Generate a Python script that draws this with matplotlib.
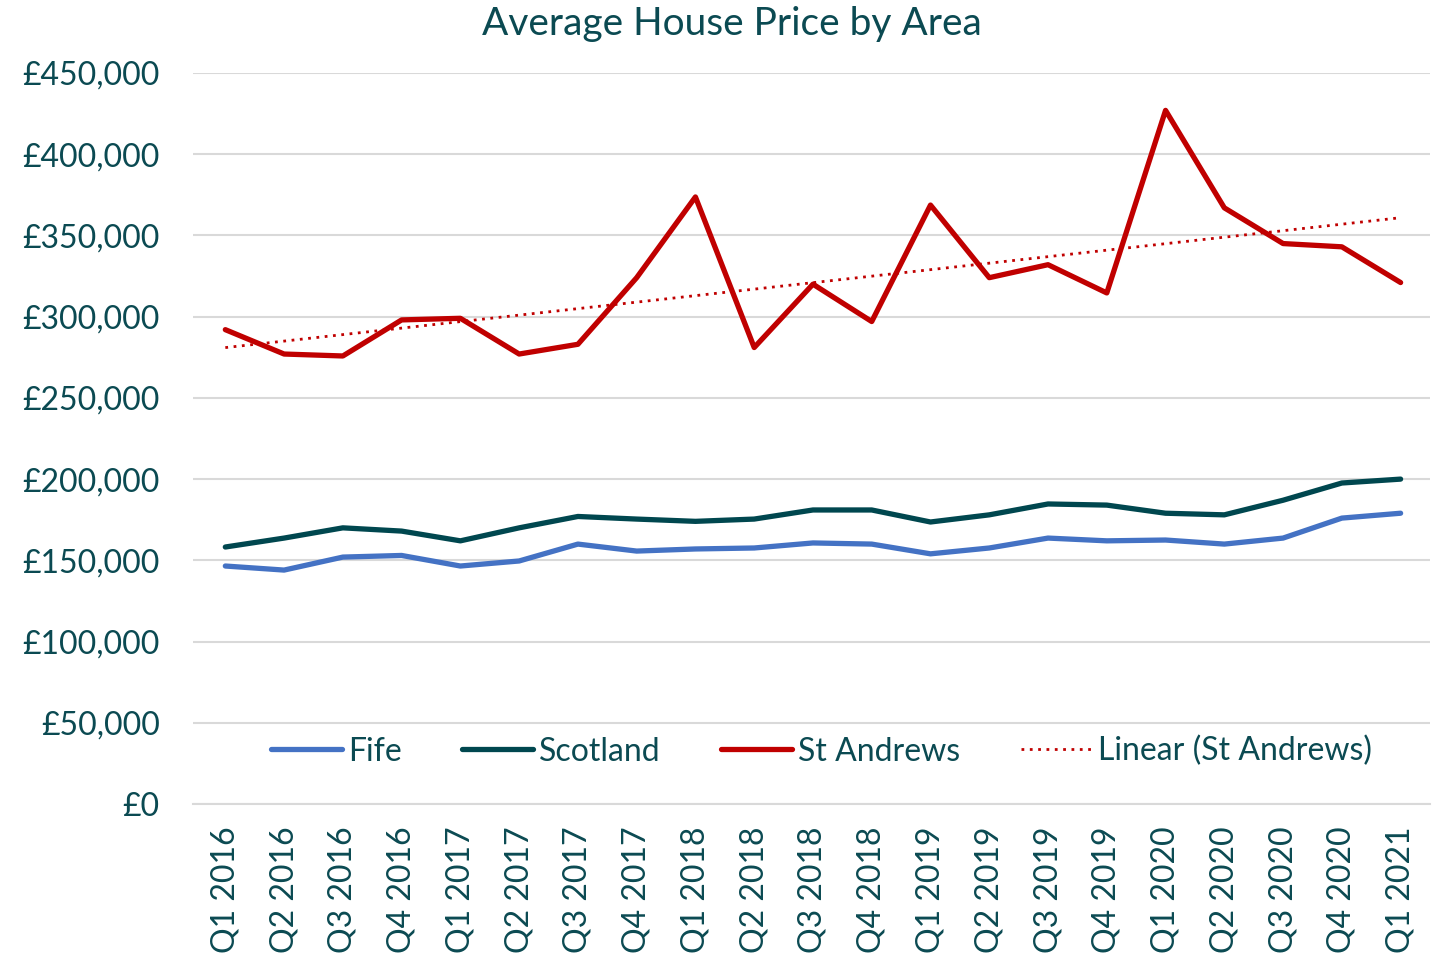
import matplotlib
matplotlib.use("Agg")
import matplotlib.pyplot as plt
import numpy as np
from matplotlib.ticker import FuncFormatter

quarters = ["Q1 2016", "Q2 2016", "Q3 2016", "Q4 2016", "Q1 2017", "Q2 2017", "Q3 2017",
            "Q4 2017", "Q1 2018", "Q2 2018", "Q3 2018", "Q4 2018", "Q1 2019", "Q2 2019",
            "Q3 2019", "Q4 2019", "Q1 2020", "Q2 2020", "Q3 2020", "Q4 2020", "Q1 2021"]
fife = [146500, 144000, 152000, 153000, 146500, 149600, 160000, 155700, 157000, 157600,
        160700, 160000, 154000, 157600, 163700, 162000, 162500, 160000, 163700, 176000, 179000]
scotland = [158200, 163700, 170000, 168000, 162000, 170000, 177000, 175400, 174000, 175400,
            181000, 181000, 173600, 178000, 184700, 184000, 179000, 178000, 187000, 197600, 200000]
st_andrews = [292000, 277000, 275800, 298000, 299000, 277000, 283000, 324000, 373700, 281000,
              320000, 297000, 368700, 324000, 332000, 314600, 427000, 367000, 345000, 343000, 321000]
yticks = [0, 50000, 100000, 150000, 200000, 250000, 300000, 350000, 400000, 450000]

plt.rcParams['font.family'] = ['Lato', 'DejaVu Sans']
txt = "#0B4A52"

fig = plt.figure(figsize=(14.43, 9.59), dpi=100)
ax = fig.add_axes([193/1443, 1 - 804/959, (1430-193)/1443, (804-73)/959])

x = np.arange(len(quarters))
ax.plot(x, fife, color="#4472C4", lw=3.8, label="Fife", solid_capstyle="round")
ax.plot(x, scotland, color="#00474F", lw=3.8, label="Scotland", solid_capstyle="round")
ax.plot(x, st_andrews, color="#C00000", lw=3.8, label="St Andrews", solid_capstyle="round")
coef = np.polyfit(x, st_andrews, 1)
ax.plot(x, np.polyval(coef, x), color="#C00000", lw=2.0, ls=(0, (1, 2.0)),
        label="Linear (St Andrews)")

ax.set_xlim(-0.55, 20.5)
ax.set_ylim(0, 450000)
ax.set_yticks(yticks)
ax.yaxis.set_major_formatter(FuncFormatter(lambda v, p: f"£{int(v):,}"))
ax.set_xticks(x)
ax.set_xticklabels(quarters, rotation=90)
ax.grid(axis='y', color="#D9D9D9", lw=1.5)
ax.set_axisbelow(True)
for s in ["top", "right", "left"]:
    ax.spines[s].set_visible(False)
ax.spines["bottom"].set_color("#D9D9D9")
ax.spines["bottom"].set_linewidth(1.5)
ax.tick_params(axis='both', length=0, labelsize=23, colors=txt)
ax.tick_params(axis='y', pad=24)
ax.tick_params(axis='x', pad=16)

fig.text(732/1443, 1 - 24/959, "Average House Price by Area", fontsize=28, color=txt,
         ha="center", va="center")

leg = ax.legend(loc="center", bbox_to_anchor=(0.508, 0.072), ncol=4, frameon=False,
                fontsize=23, handlelength=2.2, handletextpad=0.2, columnspacing=1.9,
                labelcolor=txt)

fig.savefig("out.png", dpi=100)
